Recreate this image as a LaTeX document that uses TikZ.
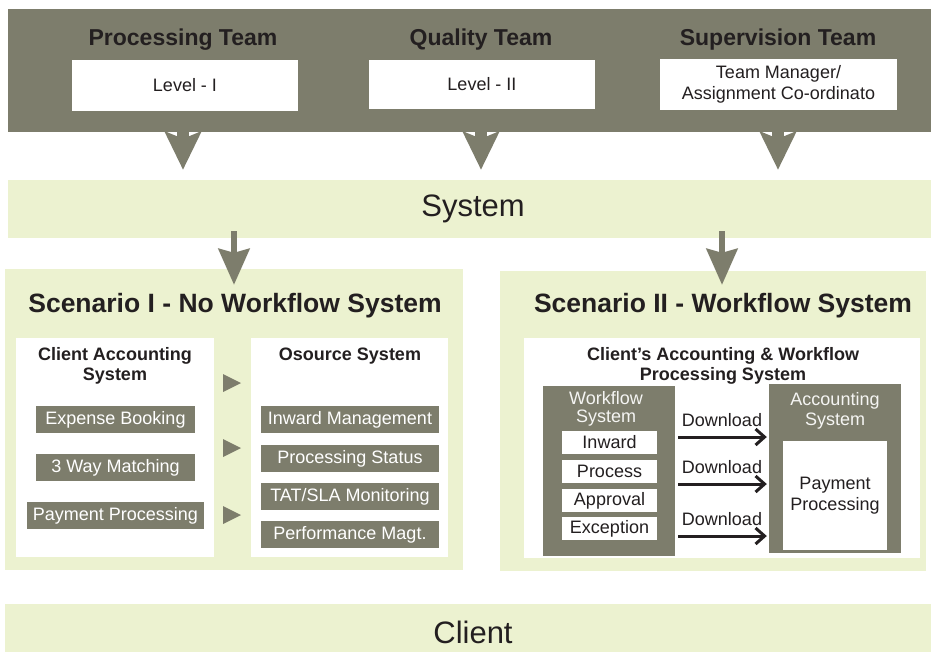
\documentclass[tikz,border=0pt]{standalone}
\usepackage{fontspec}
\setmainfont{Liberation Sans}
\usetikzlibrary{arrows.meta}
\definecolor{bandgray}{RGB}{125,125,108}
\definecolor{panelgreen}{RGB}{236,242,208}
\definecolor{inkblack}{RGB}{35,31,32}

\tikzset{
  box/.style={rectangle, inner sep=0pt, align=center},
  teamtitle/.style={font=\fontsize{23}{26}\selectfont\bfseries, text=inkblack},
  bigtitle/.style={font=\fontsize{26.5}{30}\selectfont\bfseries, text=inkblack},
  subtitle/.style={font=\fontsize{18}{20}\selectfont\bfseries, text=inkblack, align=center},
  plain/.style={font=\fontsize{18}{20.5}\selectfont, text=inkblack},
  itembox/.style={box, fill=bandgray, text=white, font=\fontsize{18}{20}\selectfont, minimum height=27},
  teamarrow/.style={bandgray, line width=12pt, shorten >=10pt, -{Stealth[length=38pt, width=36pt, inset=7pt]}},
  sysarrow/.style={bandgray, line width=6pt, -{Stealth[length=36pt, width=31pt, inset=4pt]}},
  dlarrow/.style={inkblack, line width=3pt, shorten <=3pt, shorten >=2pt, -{Straight Barb[length=9pt, width=16pt]}}
}

\begin{document}
\begin{tikzpicture}[x=1pt, y=-1pt]
  \useasboundingbox (0,0) rectangle (931,651);

  % Equipos
  \node[box, fill=bandgray, minimum width=923, minimum height=123] (teams) at (469.5,70.5) {};
  \foreach \x/\name/\label in {183/proc/Processing Team, 481/qual/Quality Team, 778/super/Supervision Team} {
      \node[teamtitle] (\name) at (\x,40) {\label};
  }
  \node[box, fill=white, plain, minimum width=226, minimum height=51] (lvlone) at (185,85.5) {Level - I};
  \node[box, fill=white, plain, minimum width=226, minimum height=49] (lvltwo) at (482,84.5) {Level - II};
  \node[box, fill=white, plain, minimum width=237, minimum height=51] (manager) at (778.5,84.5) {Team Manager/\\Assignment Co-ordinato};

  % Sistema y cliente
  \node[box, fill=panelgreen, minimum width=930, minimum height=58, font=\fontsize{31}{34}\selectfont, text=inkblack] (system) at (473,209) {System};
  \node[box, fill=panelgreen, minimum width=936, minimum height=56, font=\fontsize{31}{34}\selectfont, text=inkblack] (client) at (473,632) {Client};

  % Flechas de los equipos
  \foreach \name in {proc, qual, super} {
      \draw[teamarrow] (teams.south -| \name) -- (system.north -| \name);
  }

  % Escenario I
  \node[box, fill=panelgreen, minimum width=458, minimum height=301] (scenone) at (234,419.5) {};
  \node[bigtitle] (scenonetitle) at (235,306) {Scenario I - No Workflow System};
  \node[box, fill=white, minimum width=198, minimum height=219] (clientacc) at (115,447.5) {};
  \node[box, fill=white, minimum width=197, minimum height=219] (osource) at (349.5,447.5) {};
  \node[subtitle] (clientacctitle) at (115,366) {Client Accounting\\System};
  \node[subtitle] (osourcetitle) at (350,356) {Osource System};
  \foreach \n/\y/\w/\label in {expense/419.5/159/Expense Booking, match/467.5/159/3 Way Matching, payment/515.5/177/Payment Processing} {
      \node[itembox, minimum width=\w] (\n) at (115.5,\y) {\label};
  }
  \foreach \n/\y/\label in {inward/419.5/Inward Management, status/458.5/Processing Status, tat/496.5/{TAT/SLA Monitoring}, perf/534.5/Performance Magt.} {
      \node[itembox, minimum width=178] (\n) at (350,\y) {\label};
  }
  \foreach \y in {383, 448, 515} {
      \fill[bandgray] (223,\y-9) -- (241,\y) -- (223,\y+9) -- cycle;
  }

  % Escenario II
  \node[box, fill=panelgreen, minimum width=426, minimum height=300] (scentwo) at (713,421) {};
  \node[bigtitle] (scentwotitle) at (723,306) {Scenario II - Workflow System};
  \node[box, fill=white, minimum width=396, minimum height=220] (scentwoin) at (722,448) {};
  \node[subtitle] (scentwoinsub) at (723,366) {Client's Accounting \& Workflow\\Processing System};
  \node[box, fill=bandgray, minimum width=132, minimum height=170] (wflow) at (609,471) {};
  \node[plain, text=white!92!bandgray, align=center, font=\fontsize{18}{18}\selectfont] (wflowtitle) at (606,409) {Workflow\\System};
  \foreach \n/\y/\label in {winward/442.5/Inward, wprocess/471.5/Process, wapproval/500.5/Approval, wexcept/528.5/Exception} {
      \node[box, fill=white, plain, minimum width=95, minimum height=23] (\n) at (609.5,\y) {\label};
  }
  \node[box, fill=bandgray, minimum width=132, minimum height=169] (acct) at (835,468.5) {};
  \node[plain, text=white!92!bandgray, align=center] (accttitle) at (835,411) {Accounting\\System};
  \node[box, fill=white, plain, minimum width=104, minimum height=109] (paybox) at (835,495.5) {Payment\\Processing};

  % Descargas
  \foreach \y in {437, 484, 536} {
      \draw[dlarrow] (wflow.east |- 0,\y) -- (acct.west |- 0,\y)
          node[midway, above=8pt, inner sep=1pt, plain] {Download};
  }

  % Flechas del sistema
  \path (system.south -| scenone.north) ++(0,-7) coordinate (sysone);
  \path (system.south -| scentwoin.north) ++(0,-7) coordinate (systwo);
  \path (scenone.north) ++(0,16) coordinate (tipone);
  \path (scentwo.north -| scentwoin.north) ++(0,14) coordinate (tiptwo);
  \draw[sysarrow] (sysone) -- (tipone);
  \draw[sysarrow] (systwo) -- (tiptwo);
\end{tikzpicture}
\end{document}
